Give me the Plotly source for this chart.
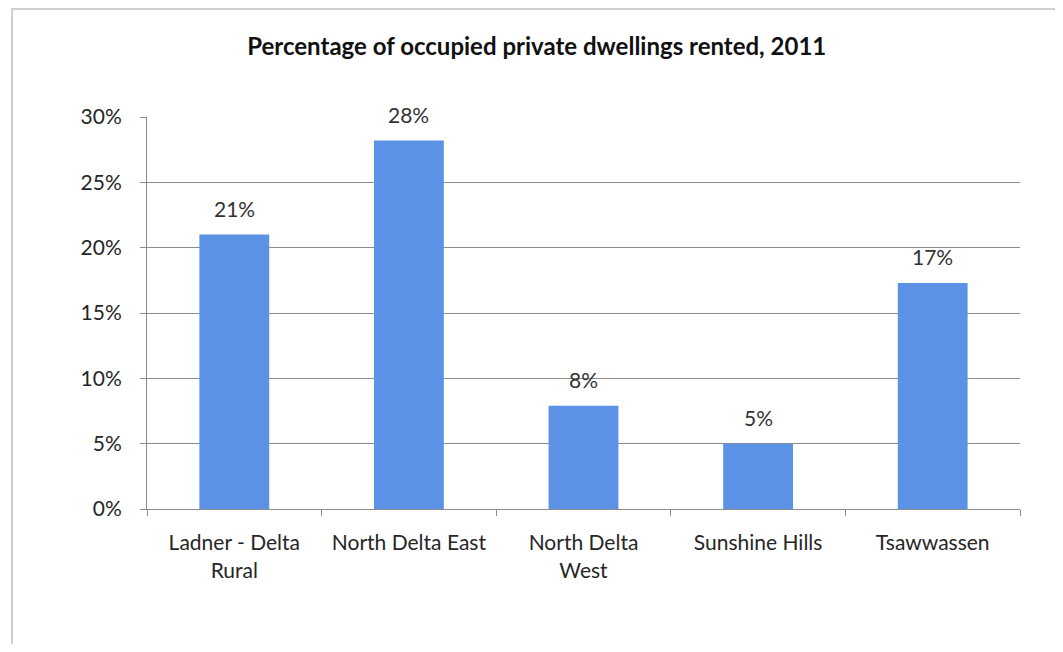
import plotly.graph_objects as go

areas = ['Ladner - Delta<br>Rural', 'North Delta East', 'North Delta<br>West', 'Sunshine Hills', 'Tsawwassen']
rented = [21.0, 28.2, 7.9, 5.0, 17.3]
labels = ['21%', '28%', '8%', '5%', '17%']
y_ticks = [0, 5, 10, 15, 20, 25, 30]
y_tick_text = ['0%', '5%', '10%', '15%', '20%', '25%', '30%']

fig = go.Figure()
fig.add_trace(go.Bar(
    x=areas,
    y=rented,
    marker=dict(color='#5b92e5', line=dict(width=0)),
    width=0.4,
))

# value labels sit a bit higher above the bars than plotly's 'outside' text
for area, value, label in zip(areas, rented, labels):
    fig.add_annotation(
        x=area, y=value, text=label,
        showarrow=False, yanchor='middle', yshift=26,
        font=dict(size=21, color='#333333'),
    )

# page body has an 8px margin, so the figure is sized 16px smaller
fig.update_layout(
    width=1047,
    height=636,
    paper_bgcolor='white',
    plot_bgcolor='white',
    font=dict(family='Lato, Open Sans, sans-serif', size=21, color='#262626'),
    title=dict(
        text='<b>Percentage of occupied private dwellings rented, 2011</b>',
        x=0.505, xanchor='center', y=0.94, yanchor='middle',
        font=dict(size=24, color='#111111'),
    ),
    margin=dict(l=139, r=35, t=109, b=135),
    showlegend=False,
    shapes=[dict(
        type='path', xref='paper', yref='paper',
        path='M -0.1546,-0.5 L -0.1546,1.2755 L 1.2,1.2755',
        line=dict(color='#cfcfcf', width=2),
    )],
)
fig.update_yaxes(
    range=[0, 30],
    tickvals=y_ticks,
    ticktext=y_tick_text,
    showgrid=True,
    gridcolor='#8c8c8c',
    gridwidth=1,
    showline=True,
    linecolor='#8c8c8c',
    ticks='outside',
    ticklen=6,
    tickcolor='#8c8c8c',
    ticklabelstandoff=14,
    zeroline=False,
    fixedrange=True,
)
fig.update_xaxes(
    showline=True,
    linecolor='#8c8c8c',
    ticks='outside',
    tickson='boundaries',
    ticklen=6,
    tickcolor='#8c8c8c',
    ticklabelstandoff=15,
    fixedrange=True,
)

fig.write_html('out.html')
